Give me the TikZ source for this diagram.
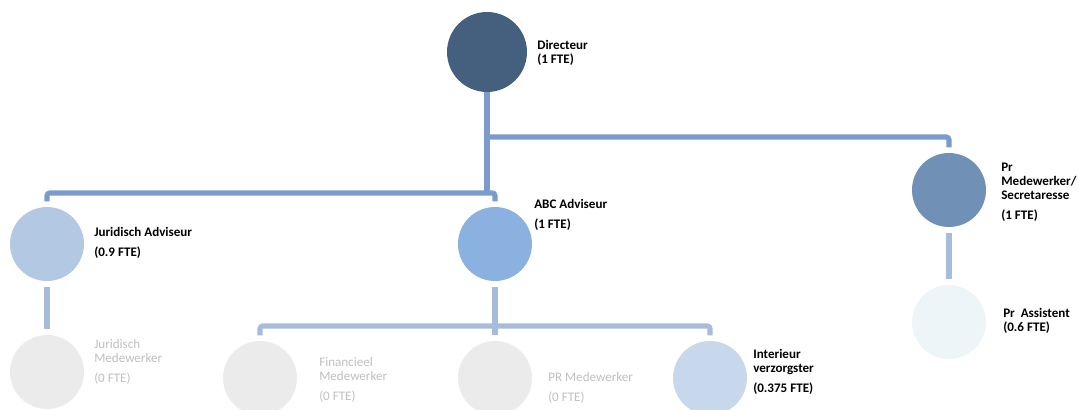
\documentclass[tikz,border=0pt]{standalone}
\usepackage{fontspec}
\setmainfont{Carlito}
\definecolor{cDir}{HTML}{44607E}
\definecolor{cPrm}{HTML}{7090B5}
\definecolor{cAbc}{HTML}{8BB1E0}
\definecolor{cJa}{HTML}{B3C8E2}
\definecolor{cIe}{HTML}{C8D8EC}
\definecolor{cPa}{HTML}{EDF5F9}
\definecolor{cGrey}{HTML}{EBEBEB}
\definecolor{cGreyTxt}{HTML}{BFBFBF}
\definecolor{cLineA}{HTML}{7A9BCB}
\definecolor{cLineB}{HTML}{A7BCDC}
\tikzset{
  blob/.style={circle, inner sep=0pt, minimum size=55.5pt, draw=none},
  bigblob/.style={blob, minimum size=60pt},
  lbl/.style={anchor=west, inner sep=0pt, align=left, font=\fontsize{9.8}{10.5}\selectfont\bfseries, text=black},
  glbl/.style={lbl, font=\fontsize{9.8}{10.5}\selectfont, text=cGreyTxt},
  connA/.style={draw=cLineA, line width=3.8pt, rounded corners=2pt},
  connB/.style={draw=cLineB, line width=3.8pt, rounded corners=2pt},
}
\begin{document}
\begin{tikzpicture}[x=0.75pt, y=-0.75pt]
\useasboundingbox (0,0) rectangle (1079,410);
% circles
\node[bigblob, fill=cDir] (d) at (487,52) {};
\node[blob, fill=cJa] (ja) at (47,244) {};
\node[blob, fill=cAbc] (abc) at (495,244) {};
\node[blob, fill=cPrm] (prm) at (949,190) {};
\node[blob, fill=cGrey] (jm) at (47,372) {};
\node[blob, fill=cGrey] (fm) at (260,378) {};
\node[blob, fill=cGrey] (pm) at (495,378) {};
\node[blob, fill=cIe] (ie) at (710,378) {};
\node[blob, fill=cPa] (pa) at (949,322) {};
% bus coordinates
\coordinate (busA) at (487,193);
\coordinate (busB) at (487,137);
\coordinate (busC) at (495,326);
% connectors
\draw[connA] (d.south) -- (busA);
\draw[connA] (busB) -| ([yshift=4pt]prm.north);
\draw[connA] ([yshift=4pt]ja.north) |- (busA) -| ([yshift=4pt]abc.north);
\draw[connB, shorten <=4pt, shorten >=4pt] (ja.south) -- (jm.north);
\draw[connB, shorten <=4pt, shorten >=4pt] (abc.south) -- (pm.north);
\draw[connB] ([yshift=4pt]fm.north) |- (busC) -| ([yshift=4pt]ie.north);
\draw[connB, shorten <=4pt, shorten >=4pt] (prm.south) -- (pa.north);
% labels
\node[lbl] (td) at (537,53) {Directeur\\(1 FTE)};
\node[lbl] (tja) at (94,243) {Juridisch Adviseur\\[4.5pt](0.9 FTE)};
\node[lbl] (tabc) at (534,215) {ABC Adviseur\\[4.5pt](1 FTE)};
\node[lbl] (tprm) at (1001,192) {Pr\\Medewerker/\\Secretaresse\\[4.5pt](1 FTE)};
\node[lbl] (tpa) at (1003,321) {Pr\ \ Assistent\\(0.6 FTE)};
\node[lbl] (tie) at (753,372) {Interieur\\verzorgster\\[4.5pt](0.375 FTE)};
\node[glbl] (tjm) at (94,362) {Juridisch\\Medewerker\\[5pt](0 FTE)};
\node[glbl] (tfm) at (319,380) {Financieel\\Medewerker\\[5pt](0 FTE)};
\node[glbl] (tpm) at (548,388) {PR Medewerker\\[5pt](0 FTE)};
\end{tikzpicture}
\end{document}
